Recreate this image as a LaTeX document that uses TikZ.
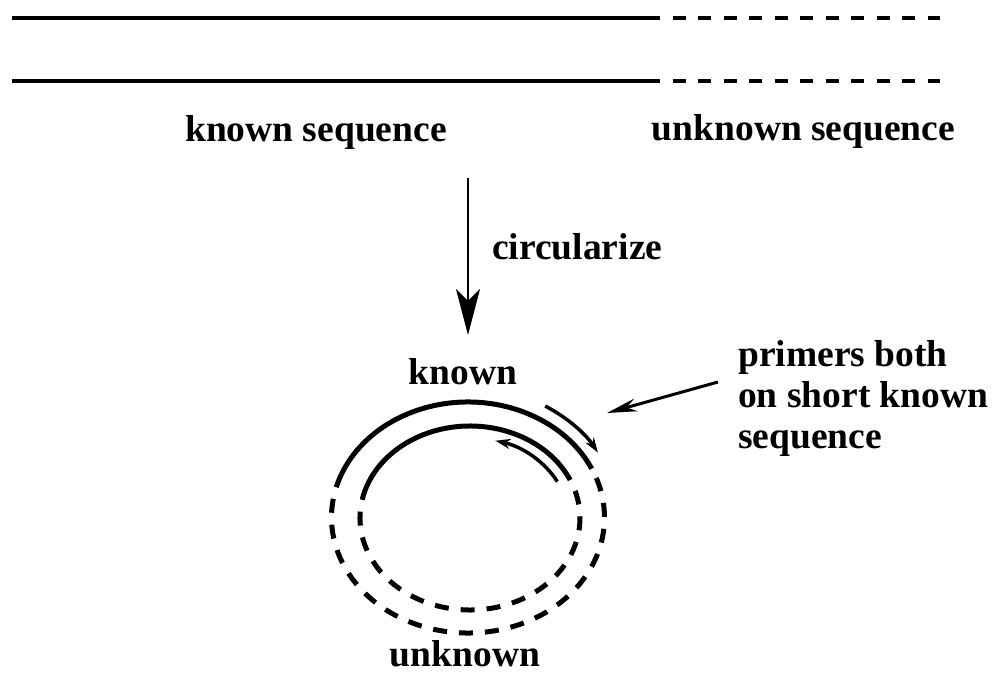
\documentclass[tikz,border=0pt]{standalone}
\usepackage{fontspec}
\setmainfont{Liberation Serif}
\usetikzlibrary{arrows.meta}
\begin{document}
\begin{tikzpicture}[x=1pt,y=1pt,
  lbl/.style={font=\bfseries\fontsize{37.5}{41}\selectfont, inner sep=0pt},
  strand/.style={line width=4pt},
  unkstrand/.style={line width=4pt, dash pattern=on 13pt off 12.5pt},
  ring/.style={line width=5pt},
  ringdash/.style={line width=5pt, dash pattern=on 14pt off 12pt},
  primer/.style={line width=3.5pt, -{Stealth[length=15pt,width=10pt]}},
  mainarrow/.style={line width=2.5pt, -{Stealth[length=46pt,width=24pt,inset=12pt]}},
  pointer/.style={line width=3pt, -{Stealth[length=30pt,width=13pt]}}
]
\useasboundingbox (0,0) rectangle (993,675);
\fill[white] (0,0) rectangle (993,675);

% double strand, known (solid) and unknown (dashed)
\coordinate (t1) at (12,657);  \coordinate (t2) at (647,657);  \coordinate (t3) at (940,657);
\coordinate (b1) at (12,594);  \coordinate (b2) at (647,594);  \coordinate (b3) at (940,594);
\draw[strand] (t1) -- (t2);
\draw[unkstrand] (t2) -- (t3);
\draw[strand] (b1) -- (b2);
\draw[unkstrand] (b2) -- (b3);

\node[lbl, anchor=base] (ks) at (316,533) {known sequence};
\node[lbl, anchor=base] (us) at (803.5,534) {unknown sequence};

% circularize arrow
\coordinate (c1) at (468,497);
\coordinate (c2) at (468,340);
\draw[mainarrow] (c1) -- (c2);
\node[lbl, anchor=base west] (circ) at (492,415) {circularize};

% circular molecule
\coordinate (oc) at (468,157.5);
\coordinate (ic) at (470,157);
\draw[ring] (oc) ++(25:136.5 and 115.5) arc[start angle=25,end angle=158,x radius=136.5,y radius=115.5];
\draw[ringdash] (oc) ++(158:136.5 and 115.5) arc[start angle=158,end angle=385,x radius=136.5,y radius=115.5];
\draw[ring] (ic) ++(28:110 and 92) arc[start angle=28,end angle=160,x radius=110,y radius=92];
\draw[ringdash] (ic) ++(160:110 and 92) arc[start angle=160,end angle=388,x radius=110,y radius=92];

% primers
\draw[primer] (oc) ++(59:150 and 130) arc[start angle=59,end angle=30,x radius=150,y radius=130];
\draw[primer] (ic) ++(27:98 and 80) arc[start angle=27,end angle=75,x radius=98,y radius=80];

\node[lbl, anchor=base] (kn) at (463,290) {known};
\node[lbl, anchor=base] (ukn) at (465,9) {unknown};

% primer label
\node[lbl, anchor=north west, align=left] (pr) at (738,335) {primers both\\on short known\\sequence};
\coordinate (q1) at (718,293);
\coordinate (q2) at (607,262);
\draw[pointer] (q1) -- (q2);
\end{tikzpicture}
\end{document}
